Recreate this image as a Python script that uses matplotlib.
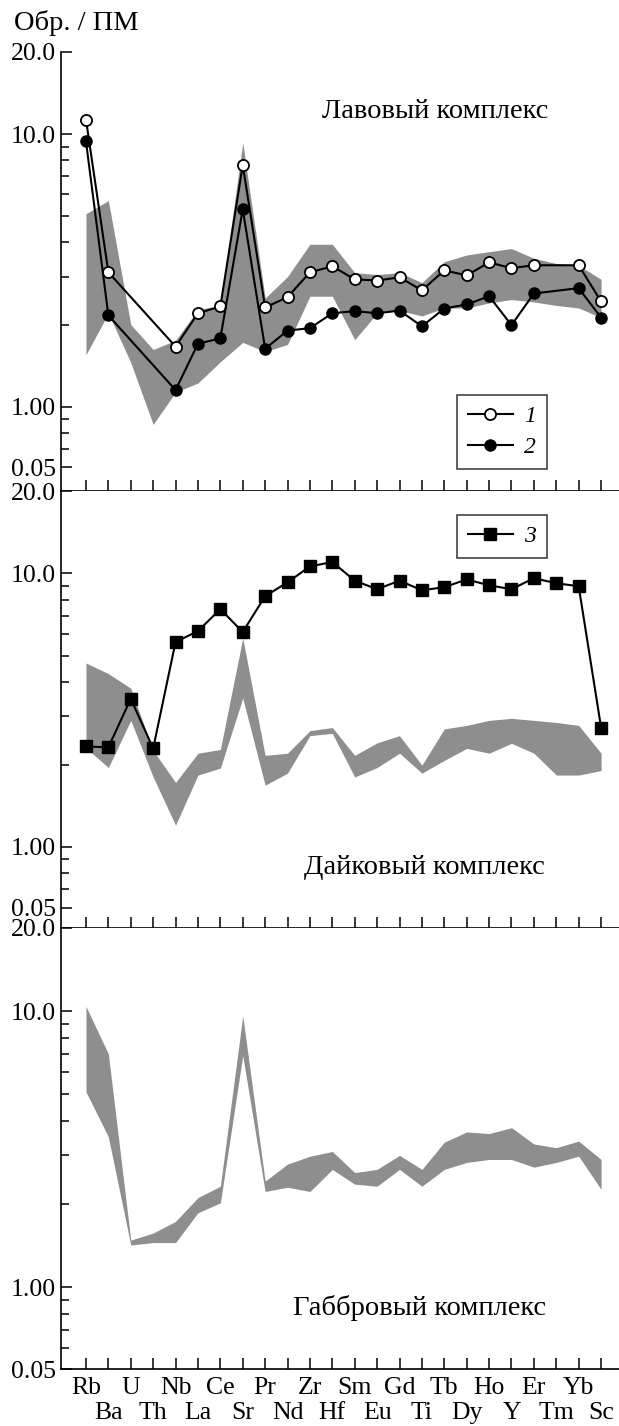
import numpy as np
import matplotlib
matplotlib.use("Agg")
import matplotlib.pyplot as plt
from matplotlib.lines import Line2D
from matplotlib.ticker import NullFormatter

plt.rcParams["font.family"] = ["Liberation Serif", "DejaVu Serif"]

nan = np.nan

elements = ["Rb", "Ba", "U", "Th", "Nb", "La", "Ce", "Sr", "Pr", "Nd", "Zr", "Hf",
            "Sm", "Eu", "Gd", "Ti", "Tb", "Dy", "Ho", "Y", "Er", "Tm", "Yb", "Sc"]

# lava complex: samples 1 and 2 (U, Th, Tm not measured)
lava_1 = [11.3, 3.11, nan, nan, 1.66, 2.20, 2.33, 7.7, 2.31, 2.52, 3.11, 3.27,
          2.93, 2.90, 2.98, 2.67, 3.16, 3.03, 3.38, 3.22, 3.30, nan, 3.30, 2.43]
lava_2 = [9.4, 2.16, nan, nan, 1.15, 1.70, 1.78, 5.3, 1.63, 1.90, 1.94, 2.20,
          2.24, 2.20, 2.25, 1.97, 2.29, 2.37, 2.54, 1.99, 2.60, nan, 2.72, 2.12]
lava_hi = [5.1, 5.7, 2.0, 1.62, 1.75, 2.27, 2.35, 9.3, 2.5, 3.0, 3.94, 3.94,
           3.1, 3.05, 3.1, 2.85, 3.4, 3.6, 3.7, 3.8, 3.5, 3.35, 3.3, 2.93]
lava_lo = [1.55, 2.2, 1.45, 0.86, 1.13, 1.22, 1.46, 1.72, 1.59, 1.69, 2.54, 2.54,
           1.76, 2.2, 2.25, 2.15, 2.3, 2.3, 2.4, 2.47, 2.42, 2.35, 2.3, 2.12]

# dike complex: sample 3
dike_3 = [2.33, 2.31, 3.48, 2.29, 5.61, 6.15, 7.4, 6.1, 8.25, 9.27, 10.6, 11.0,
          9.4, 8.75, 9.4, 8.67, 8.9, 9.5, 9.04, 8.75, 9.6, 9.2, 8.97, 2.73]
dike_hi = [4.7, 4.3, 3.8, 2.25, 1.72, 2.2, 2.27, 5.8, 2.16, 2.2, 2.66, 2.73,
           2.16, 2.4, 2.55, 1.99, 2.7, 2.78, 2.9, 2.95, 2.9, 2.85, 2.78, 2.2]
dike_lo = [2.3, 1.95, 2.9, 1.8, 1.2, 1.83, 1.94, 3.5, 1.68, 1.86, 2.55, 2.6,
           1.8, 1.95, 2.2, 1.86, 2.07, 2.29, 2.2, 2.39, 2.2, 1.83, 1.83, 1.9]

# gabbro complex
gab_hi = [10.4, 7.0, 1.48, 1.57, 1.73, 2.11, 2.32, 9.6, 2.42, 2.79, 2.98, 3.1,
          2.6, 2.67, 3.0, 2.67, 3.35, 3.65, 3.6, 3.78, 3.3, 3.2, 3.38, 2.9]
gab_lo = [5.1, 3.5, 1.42, 1.45, 1.45, 1.86, 2.02, 6.9, 2.22, 2.3, 2.22, 2.67,
          2.36, 2.32, 2.67, 2.32, 2.67, 2.83, 2.9, 2.9, 2.72, 2.83, 2.98, 2.26]

ylabels = ["0.05", "1.00", "10.0", "20.0"]

W, H = 619, 1426
BAND = "#8e8e8e"
FS = 18.5      # tick labels
TFS = 20.5     # captions

fig = plt.figure(figsize=(W / 100, H / 100), dpi=100)
x = np.arange(len(elements))


def make_axes(top, bottom, ymin, low_tick):
    ax = fig.add_axes([61 / W, 1 - bottom / H, (W - 61) / W, (bottom - top) / H])
    ax.set_yscale("log")
    ax.set_ylim(ymin, 20)
    ax.set_xlim(-1.115, 23.8)
    for s in ("top", "right"):
        ax.spines[s].set_visible(False)
    for s in ("left", "bottom"):
        ax.spines[s].set_linewidth(1.2)
    ax.set_yticks([low_tick, 1, 10, 20], ylabels)
    ax.set_yticks([0.6, 0.7, 0.8, 0.9, 2, 3, 4, 5, 6, 7, 8, 9], minor=True)
    ax.yaxis.set_minor_formatter(NullFormatter())
    ax.tick_params(axis="y", which="major", direction="in", length=8, width=1.1,
                   labelsize=FS, pad=3.5)
    ax.tick_params(axis="y", which="minor", direction="in", length=6, width=1.1)
    ax.set_xticks(x[::2])
    ax.set_xticks(x[1::2], minor=True)
    ax.tick_params(axis="x", which="both", direction="in", length=8, width=1.1,
                   labelbottom=False)
    return ax


def series(ax, vals, **kw):
    v = np.array(vals, dtype=float)
    m = ~np.isnan(v)
    ax.plot(x[m], v[m], color="black", lw=1.5, zorder=3, **kw)


ax1 = make_axes(52, 491, 0.49, 0.6)
ax2 = make_axes(491, 928, 0.505, 0.6)
ax3 = make_axes(928, 1369, 0.505, 0.505)

ax1.fill_between(x, lava_lo, lava_hi, color=BAND, lw=0, zorder=1)
series(ax1, lava_1, marker="o", ms=8, mfc="white", mec="black", mew=1.3)
series(ax1, lava_2, marker="o", ms=8, mfc="black", mec="black")

ax2.fill_between(x, dike_lo, dike_hi, color=BAND, lw=0, zorder=1)
series(ax2, dike_3, marker="s", ms=9, mfc="black", mec="black")

ax3.fill_between(x, gab_lo, gab_hi, color=BAND, lw=0, zorder=1)

# two staggered rows of element names
ax3.set_xticks(x[::2], elements[::2])
ax3.set_xticks(x[1::2], elements[1::2], minor=True)
ax3.tick_params(axis="x", which="major", labelbottom=True, labelsize=FS, pad=6)
ax3.tick_params(axis="x", which="minor", labelbottom=True, labelsize=FS, pad=24)

leg_kw = dict(frameon=True, fancybox=False, edgecolor="black",
              handlelength=1.9, handletextpad=0.5, borderpad=0.45,
              labelspacing=0.4, borderaxespad=0,
              prop={"style": "italic", "size": 17})
h1 = Line2D([], [], color="black", lw=1.5, marker="o", ms=8, mfc="white",
            mec="black", mew=1.3)
h2 = Line2D([], [], color="black", lw=1.5, marker="o", ms=8, mfc="black")
leg = ax1.legend([h1, h2], ["1", "2"], loc="lower left",
                 bbox_to_anchor=(0.71, 0.05), **leg_kw)
leg.get_frame().set_linewidth(1.1)
h3 = Line2D([], [], color="black", lw=1.5, marker="s", ms=9, mfc="black")
leg = ax2.legend([h3], ["3"], loc="upper left",
                 bbox_to_anchor=(0.71, 0.945), **leg_kw)
leg.get_frame().set_linewidth(1.1)

fig.text(14 / W, 1 - 23 / H, "Обр. / ПМ", fontsize=TFS, ha="left", va="center")
fig.text(322 / W, 1 - 112 / H, "Лавовый комплекс", fontsize=TFS, ha="left", va="center")
fig.text(304 / W, 1 - 867 / H, "Дайковый комплекс", fontsize=TFS, ha="left", va="center")
fig.text(293 / W, 1 - 1308 / H, "Габбровый комплекс", fontsize=TFS, ha="left", va="center")

fig.savefig("out.png", dpi=100)
